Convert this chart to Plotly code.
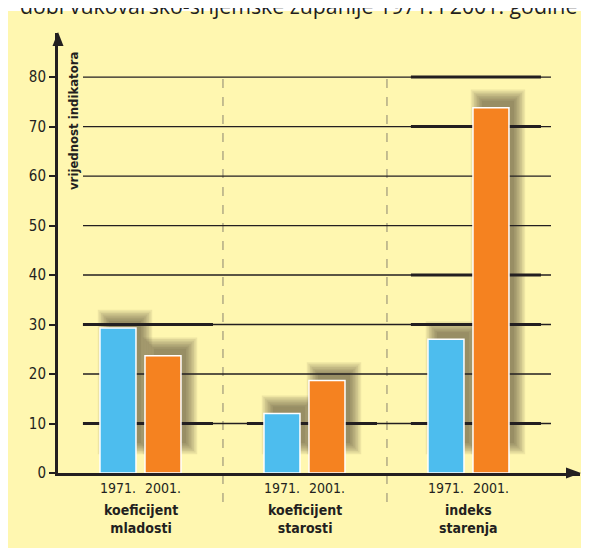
import plotly.graph_objects as go

# ---- data ----
categories = ["koeficijent<br>mladosti", "koeficijent<br>starosti", "indeks<br>starenja"]
years = ["1971.", "2001."]
values_1971 = [29.3, 12.0, 27.0]
values_2001 = [23.7, 18.7, 73.8]
y_ticks = [0, 10, 20, 30, 40, 50, 60, 70, 80]
y_title = "vrijednost indikatora"
title_text = "dobi vukovarsko-srijemske županije 1971. i 2001. godine"
# decorative thick grid segments: (group index, level)
thick_segments = [(0, 10), (0, 30), (1, 10), (2, 10), (2, 30), (2, 40), (2, 70), (2, 80)]

# ---- geometry / style (screen pixels; page body has an 8px margin) ----
OFF = 8
SW, SH = 589, 548
W, H = SW + 12, SH + 4
LEFT, RIGHT, TOP, BOTTOM = 58, 580, 33, 473   # plot area in screen px
ML = LEFT - OFF
MT = TOP - OFF
MR = (OFF + W) - RIGHT
MB = (OFF + H) - BOTTOM
XR = [-0.506, 2.677]
YR = [0, 88.9]
pw = RIGHT - LEFT
ph = BOTTOM - TOP
pxx = pw / (XR[1] - XR[0])
pxy = ph / (YR[1] - YR[0])

BLUE = "#4DBDEE"
ORANGE = "#F58220"
YELLOW = "#FFF7B0"
INK = "#231F20"
NARROW = "DejaVu Sans Condensed, Liberation Sans Narrow, sans-serif"

bar_w = 36 / pxx
off_a = -41 / pxx
off_b = 4 / pxx
xs = list(range(len(categories)))


def px_x(px):
    return (px - LEFT) / pw


def px_y(py):
    return (BOTTOM - py) / ph


fig = go.Figure()
fig.add_trace(go.Bar(x=xs, y=values_1971, width=bar_w, offset=off_a, name=years[0],
                     marker=dict(color=BLUE, line=dict(color="white", width=1.5))))
fig.add_trace(go.Bar(x=xs, y=values_2001, width=bar_w, offset=off_b, name=years[1],
                     marker=dict(color=ORANGE, line=dict(color="white", width=1.5))))

shapes = []
# white strip at the very top (panel starts a few px below the page top)
shapes.append(dict(type="rect", xref="paper", yref="paper", layer="below",
                   x0=px_x(0), x1=px_x(SW + 40), y0=px_y(11), y1=px_y(-10),
                   fillcolor="white", line=dict(width=0)))
# dashed separators
for sx in [0.5, 1.5]:
    xp = (sx - XR[0]) / (XR[1] - XR[0])
    shapes.append(dict(type="line", xref="paper", yref="paper", layer="below",
                       x0=xp, x1=xp, y0=px_y(502), y1=(80 - YR[0]) / (YR[1] - YR[0]),
                       line=dict(color="#8a8470", width=1, dash="dash")))
# soft shadows behind bars
for vals, off in [(values_1971, off_a), (values_2001, off_b)]:
    for i, v in zip(xs, vals):
        bx0 = i + off + 9 / pxx
        bx1 = bx0 + bar_w - 4 / pxx
        by1 = v + 7 / pxy
        by0 = 30 / pxy
        for k in range(8):
            e = 1.6 * k
            shapes.append(dict(type="rect", xref="x", yref="y", layer="below",
                               x0=bx0 - e / pxx, x1=bx1 + e / pxx,
                               y0=by0 - e / pxy, y1=by1 + e / pxy,
                               fillcolor="#3a3220", opacity=0.085, line=dict(width=0)))
# grid lines
gx0 = XR[0] + (83 - LEFT) / pxx
gx1 = XR[0] + (551 - LEFT) / pxx
for t in y_ticks[1:]:
    shapes.append(dict(type="line", xref="x", yref="y", layer="below",
                       x0=gx0, x1=gx1, y0=t, y1=t, line=dict(color=INK, width=1.3)))
for g, lvl in thick_segments:
    shapes.append(dict(type="line", xref="x", yref="y", layer="below",
                       x0=g - 0.354, x1=g + 0.439, y0=lvl, y1=lvl,
                       line=dict(color=INK, width=3)))
# arrow heads
shapes.append(dict(type="path", xref="paper", yref="paper", layer="above",
                   path=f"M {px_x(52.5)} {px_y(46)} L {px_x(58)} {px_y(32)} L {px_x(63.5)} {px_y(46)} Z",
                   fillcolor=INK, line=dict(width=0)))
shapes.append(dict(type="path", xref="paper", yref="paper", layer="above",
                   path=f"M {px_x(566)} {px_y(467.5)} L {px_x(581)} {px_y(473)} L {px_x(566)} {px_y(478.5)} Z",
                   fillcolor=INK, line=dict(width=0)))

annotations = []
# title (clipped at top of page)
annotations.append(dict(text=title_text, xref="paper", yref="paper", x=px_x(298), y=px_y(22),
                        xanchor="center", yanchor="bottom", showarrow=False,
                        font=dict(family="Open Sans, Noto Sans, sans-serif", size=21.3, color=INK)))
# y axis title
annotations.append(dict(text=f"<b>{y_title}</b>", xref="paper", yref="paper", x=px_x(74), y=px_y(121),
                        xanchor="center", yanchor="middle", textangle=-90, showarrow=False,
                        font=dict(family=NARROW, size=13, color=INK)))
# year labels and category labels
for i, cat in zip(xs, categories):
    for yr, off in zip(years, [off_a, off_b]):
        annotations.append(dict(text=yr, x=i + off + bar_w / 2, y=0, xref="x", yref="y",
                                xanchor="center", yanchor="top", yshift=-5, showarrow=False,
                                font=dict(family=NARROW, size=14, color=INK)))
    annotations.append(dict(text=f"<b>{cat}</b>", x=i, y=0, xref="x", yref="y",
                            xanchor="center", yanchor="top", yshift=-27, showarrow=False,
                            font=dict(family=NARROW, size=14, color=INK)))

fig.update_layout(
    width=W, height=H,
    margin=dict(l=ML, r=MR, t=MT, b=MB, pad=0),
    paper_bgcolor=YELLOW,
    plot_bgcolor="rgba(0,0,0,0)",
    showlegend=False,
    barmode="overlay",
    shapes=shapes,
    annotations=annotations,
    xaxis=dict(range=XR, showgrid=False, zeroline=False, showticklabels=False,
               showline=True, linecolor=INK, linewidth=3, ticks="", fixedrange=True),
    yaxis=dict(range=YR, showgrid=False, zeroline=False, tickmode="array", tickvals=y_ticks,
               ticktext=[str(t) for t in y_ticks], ticks="outside", ticklen=6, tickwidth=1.5,
               tickcolor=INK, showline=True, linecolor=INK, linewidth=3,
               tickfont=dict(family=NARROW, size=15, color=INK), fixedrange=True),
)

fig.write_html("out.html")
